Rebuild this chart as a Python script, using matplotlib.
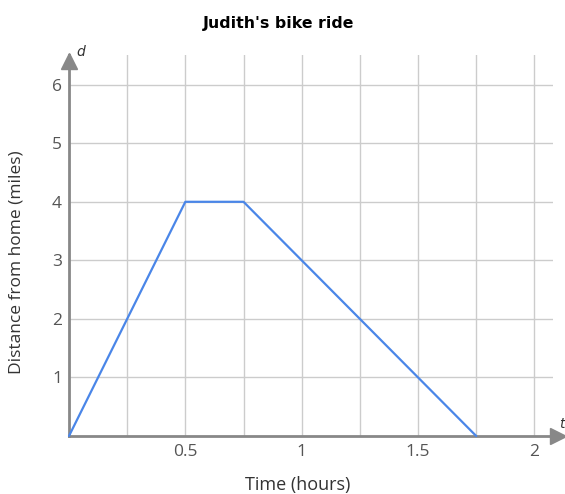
import matplotlib
matplotlib.use("Agg")
import matplotlib.pyplot as plt

# Judith's ride: time (hours) vs distance from home (miles)
time_hours = [0, 0.5, 0.75, 1.75]
distance_miles = [0, 4, 4, 0]

x_ticks = [0.5, 1, 1.5, 2]
x_tick_labels = ["0.5", "1", "1.5", "2"]
y_ticks = [1, 2, 3, 4, 5, 6]
y_tick_labels = ["1", "2", "3", "4", "5", "6"]
x_grid = [0.25, 0.5, 0.75, 1, 1.25, 1.5, 1.75, 2]

plt.rcParams["font.family"] = ["Open Sans", "DejaVu Sans"]

fig = plt.figure(figsize=(5.65, 4.94), dpi=100)
ax = fig.add_axes([0.1221, 0.1174, 0.8567, 0.7716])

xmax, ymax = 2.08, 6.51
ax.set_xlim(0, xmax)
ax.set_ylim(0, ymax)

for xg in x_grid:
    ax.axvline(xg, color="#cccccc", lw=1, zorder=1)
for yg in y_ticks:
    ax.axhline(yg, color="#cccccc", lw=1, zorder=1)

ax.plot(time_hours, distance_miles, color="#4a86e8", lw=1.6, zorder=3,
        clip_on=False, solid_capstyle="round")

for s in ["top", "right"]:
    ax.spines[s].set_visible(False)
for s in ["left", "bottom"]:
    ax.spines[s].set_color("#888888")
    ax.spines[s].set_linewidth(2)

# axis arrows
ax.plot([0], [6.41], marker="^", markersize=11, color="#888888",
        clip_on=False, zorder=4)
ax.plot([2.10], [0], marker=">", markersize=11, color="#888888",
        clip_on=False, zorder=4)
ax.plot([xmax, 2.08], [0, 0], color="#888888", lw=2, clip_on=False)
ax.text(0.05, 6.56, "d", fontsize=10, style="italic", color="#333333",
        ha="center", va="center", family="DejaVu Sans")
ax.text(2.12, 0.2, "t", fontsize=10, style="italic", color="#333333",
        ha="center", va="center", family="DejaVu Sans", clip_on=False)

ax.set_xticks(x_ticks)
ax.set_xticklabels(x_tick_labels)
ax.set_yticks(y_ticks)
ax.set_yticklabels(y_tick_labels)
ax.tick_params(length=0, labelsize=12.5, colors="#555555")
ax.tick_params(axis="x", pad=6)
ax.tick_params(axis="y", pad=5)

ax.set_xlabel("Time (hours)", fontsize=13, color="#333333")
ax.set_ylabel("Distance from home (miles)", fontsize=12.5, color="#333333")
ax.xaxis.set_label_coords(0.472, -0.106)
ax.yaxis.set_label_coords(-0.092, 0.455)
fig.suptitle("Judith's bike ride", fontsize=11.3, fontweight="bold",
             family="DejaVu Sans", y=0.967, x=0.493)

fig.savefig("out.png", dpi=100)
